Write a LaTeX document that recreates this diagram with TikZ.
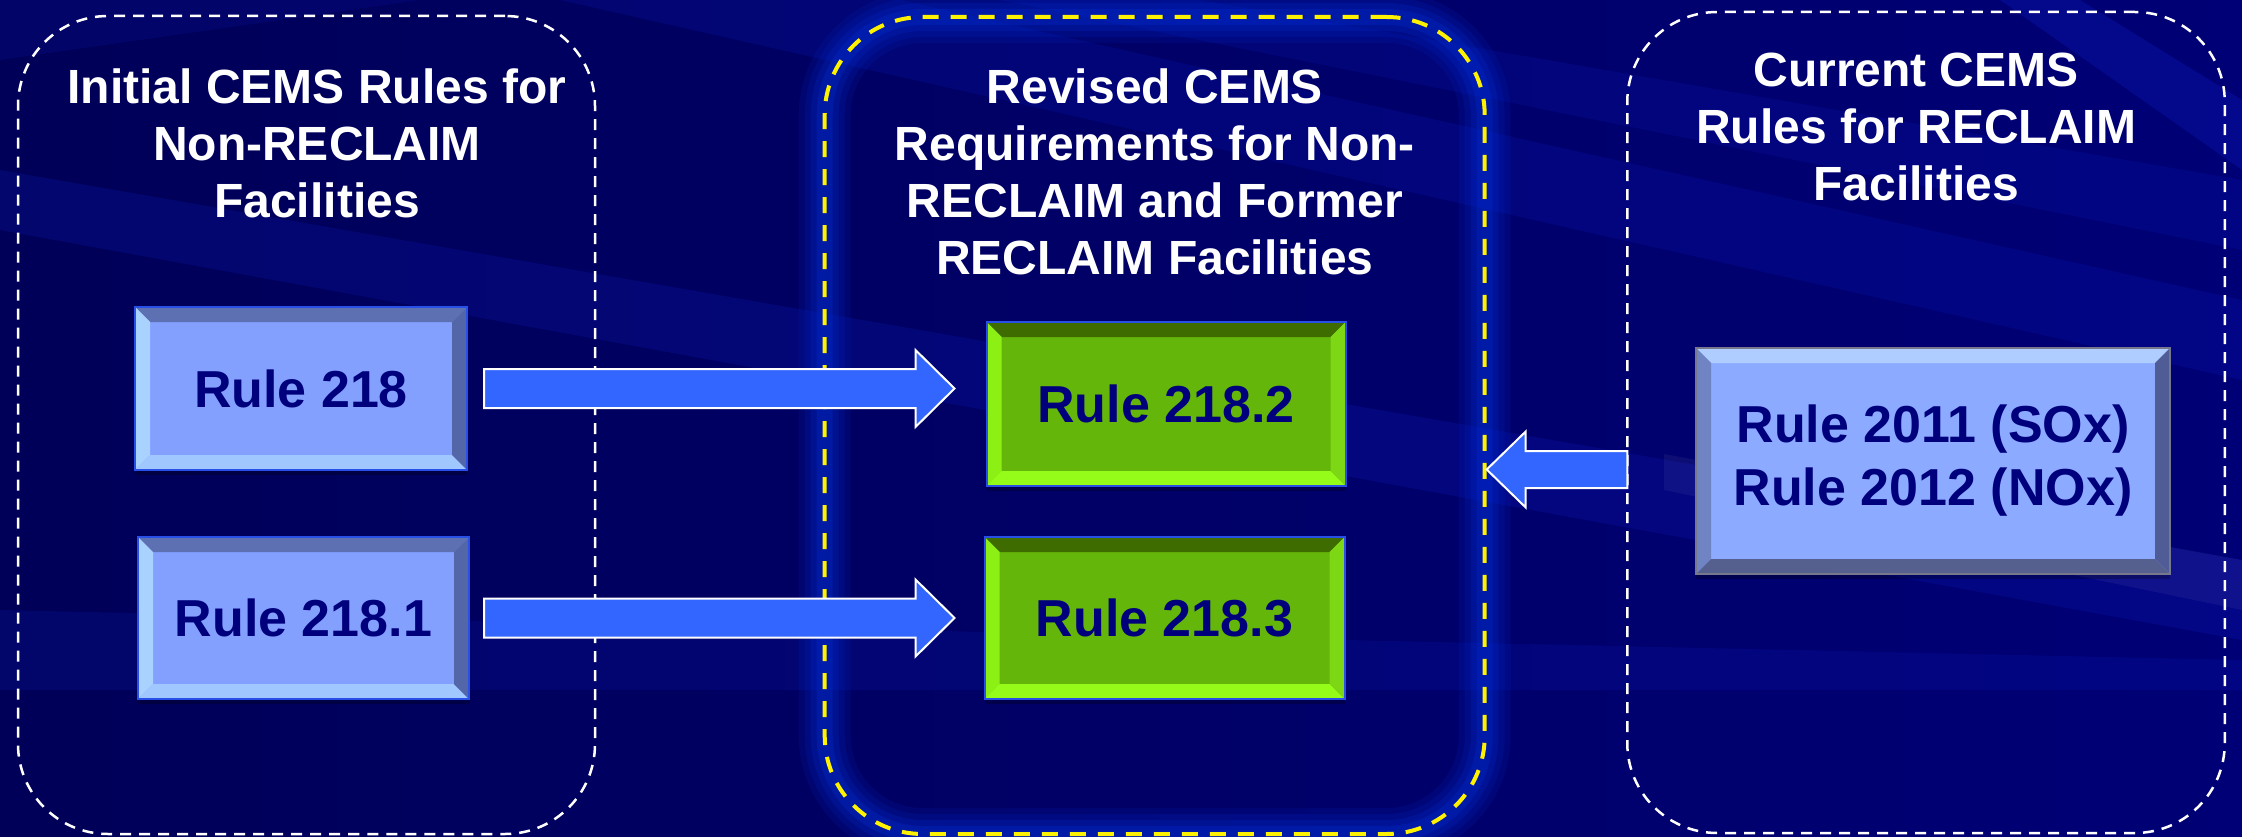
\documentclass[tikz,border=0pt]{standalone}
\usepackage{fontspec}
\setmainfont{Liberation Sans}
\usetikzlibrary{calc}
\definecolor{bgL}{RGB}{0,0,88}
\definecolor{bgR}{RGB}{0,0,118}
\definecolor{streak}{RGB}{20,40,220}
\definecolor{lbfill}{RGB}{132,160,255}
\definecolor{lbtop}{RGB}{92,112,178}
\definecolor{lbleft}{RGB}{170,210,255}
\definecolor{lbbot}{RGB}{160,200,255}
\definecolor{lbright}{RGB}{82,102,168}
\definecolor{lbline}{RGB}{40,80,230}
\definecolor{rbfill}{RGB}{140,170,255}
\definecolor{rbtop}{RGB}{175,205,255}
\definecolor{rbleft}{RGB}{112,132,196}
\definecolor{rbbot}{RGB}{86,96,142}
\definecolor{rbright}{RGB}{80,92,150}
\definecolor{rbline}{RGB}{120,120,140}
\definecolor{gfill}{RGB}{100,182,10}
\definecolor{gtop}{RGB}{62,108,0}
\definecolor{gleft}{RGB}{140,240,20}
\definecolor{gbot}{RGB}{148,252,24}
\definecolor{gright}{RGB}{125,215,20}
\definecolor{txtnavy}{RGB}{0,0,125}
\definecolor{arrowblue}{RGB}{51,102,255}
\definecolor{glowblue}{RGB}{0,55,235}
\def\bevw{15pt}
\tikzset{
  bevel/.style n args={4}{path picture={
    \path (path picture bounding box.north west) coordinate (bnw)
          (path picture bounding box.south east) coordinate (bse);
    \path (bnw -| bse) coordinate (bne) (bnw |- bse) coordinate (bsw);
    \fill[#1] (bnw) -- (bne) -- ($(bne)+(-\bevw,-\bevw)$) -- ($(bnw)+(\bevw,-\bevw)$) -- cycle;
    \fill[#2] (bnw) -- ($(bnw)+(\bevw,-\bevw)$) -- ($(bsw)+(\bevw,\bevw)$) -- (bsw) -- cycle;
    \fill[#3] (bsw) -- ($(bsw)+(\bevw,\bevw)$) -- ($(bse)+(-\bevw,\bevw)$) -- (bse) -- cycle;
    \fill[#4] (bse) -- ($(bse)+(-\bevw,\bevw)$) -- ($(bne)+(-\bevw,-\bevw)$) -- (bne) -- cycle;
  }},
  grp/.style={rectangle, rounded corners=90pt, inner sep=0pt, outer sep=0pt,
    draw=white, line width=2.5pt, dash pattern=on 11pt off 8pt},
  midgrp/.style={grp, rounded corners=98pt, draw=yellow, line width=4pt, dash pattern=on 16pt off 12pt,
    preaction={draw=glowblue, solid, line width=52pt, opacity=0.10},
    preaction={draw=glowblue, solid, line width=40pt, opacity=0.13},
    preaction={draw=glowblue, solid, line width=28pt, opacity=0.16},
    preaction={draw=glowblue, solid, line width=16pt, opacity=0.22}},
  title/.style={text=white, font=\fontsize{48}{57}\selectfont\bfseries, align=center, inner sep=0pt, anchor=north},
  rulebox/.style={rectangle, inner sep=0pt, outer sep=0pt, text=txtnavy,
    font=\fontsize{52}{63}\selectfont\bfseries, align=center, line width=2pt,
    preaction={fill=black, opacity=0.25, transform canvas={yshift=-5pt}}},
  lbox/.style={rulebox, fill=lbfill, draw=lbline, bevel={lbtop}{lbleft}{lbbot}{lbright}},
  gbox/.style={rulebox, fill=gfill, draw=lbline, bevel={gtop}{gleft}{gbot}{gright}},
  rbox/.style={rulebox, fill=rbfill, draw=rbline, bevel={rbtop}{rbleft}{rbbot}{rbright}},
  blockarrow/.style={fill=arrowblue, draw=white, line width=2pt, line join=miter}
}
\newcommand{\rarrow}[2]{%
  \filldraw[blockarrow] ($(#1)+(0,19.5pt)$) -- ($(#2)+(-39pt,19.5pt)$) -- ($(#2)+(-39pt,38.5pt)$) -- (#2)
    -- ($(#2)+(-39pt,-38.5pt)$) -- ($(#2)+(-39pt,-19.5pt)$) -- ($(#1)+(0,-19.5pt)$) -- cycle;}
\newcommand{\larrow}[2]{%
  \filldraw[blockarrow] ($(#1)+(0,18.5pt)$) -- ($(#2)+(39pt,18.5pt)$) -- ($(#2)+(39pt,38pt)$) -- (#2)
    -- ($(#2)+(39pt,-38pt)$) -- ($(#2)+(39pt,-18.5pt)$) -- ($(#1)+(0,-18.5pt)$) -- cycle;}
\begin{document}
\begin{tikzpicture}[x=1pt,y=-1pt]
\useasboundingbox (0,0) rectangle (2242,837);
% background
\fill[left color=bgL, right color=bgR] (0,0) rectangle (2242,837);
\fill[streak, opacity=0.16] (0,170) -- (0,230) -- (2242,640) -- (2242,560) -- cycle;
\fill[streak, opacity=0.15] (560,0) -- (900,0) -- (2242,300) -- (2242,380) -- cycle;
\fill[streak, opacity=0.13] (1000,0) -- (1200,0) -- (2242,180) -- (2242,250) -- cycle;
\fill[streak, opacity=0.22] (2000,0) -- (2080,0) -- (2242,100) -- (2242,170) -- cycle;
\fill[streak, opacity=0.13] (0,610) -- (2242,660) -- (2242,690) -- (0,690) -- cycle;
\fill[streak, opacity=0.12] (0,0) -- (420,0) -- (0,60) -- cycle;
\fill[white, opacity=0.05] (1664,454) -- (2242,560) -- (2242,610) -- (1664,490) -- cycle;
% groups
\node[grp, minimum width=577pt, minimum height=818pt] (lgrp) at (306.5,425) {};
\node[midgrp, minimum width=660pt, minimum height=817pt] (mgrp) at (1154.7,425.5) {};
\node[grp, minimum width=597.5pt, minimum height=821pt] (rgrp) at (1926,422.5) {};
% titles
\node[title] (ltitle) at (317,69) {Initial CEMS Rules for\\Non-RECLAIM\\Facilities};
\node[title] (mtitle) at (1155,69) {Revised CEMS\\Requirements for Non-\\RECLAIM and Former\\RECLAIM Facilities};
\node[title] (rtitle) at (1916,53) {Current CEMS\\Rules for RECLAIM\\Facilities};
% boxes
\node[lbox, minimum width=332pt, minimum height=163pt] (r218) at (301,388.5) {Rule 218};
\node[lbox, minimum width=331pt, minimum height=162pt] (r2181) at (303.5,618) {Rule 218.1};
\node[gbox, minimum width=359pt, minimum height=164pt] (r2182) at (1166,404) {Rule 218.2};
\node[gbox, minimum width=360pt, minimum height=162pt] (r2183) at (1164.5,618) {Rule 218.3};
\node[rbox, minimum width=474pt, minimum height=226pt] (r2011) at (1933,461) {Rule 2011 (SOx)\\Rule 2012 (NOx)};
% arrows
\coordinate (a1s) at ($(r218.east)+(17pt,0)$);
\coordinate (a1e) at ($(r2182.west |- r218.east)+(-32pt,0)$);
\coordinate (a2s) at ($(r2181.east)+(15pt,0)$);
\coordinate (a2e) at ($(r2183.west |- r2181.east)+(-30pt,0)$);
\coordinate (a3s) at ($(rgrp.west |- r2011.center)+(0,-8.5pt)$);
\coordinate (a3e) at ($(mgrp.east |- a3s)+(2pt,0)$);
\rarrow{a1s}{a1e}
\rarrow{a2s}{a2e}
\larrow{a3s}{a3e}
\end{tikzpicture}
\end{document}
